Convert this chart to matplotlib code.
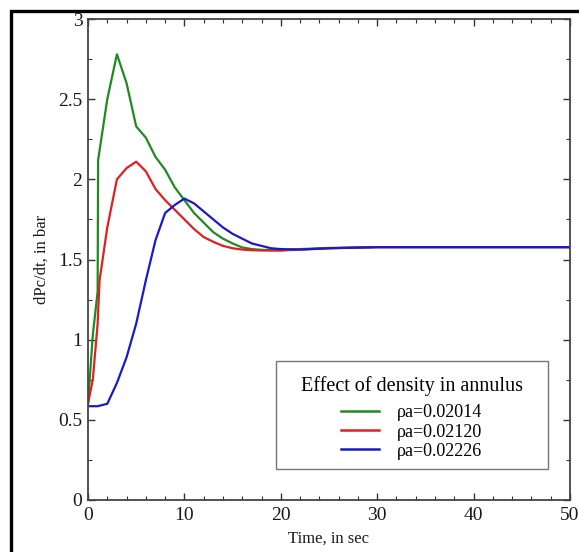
import matplotlib
matplotlib.use("Agg")
import matplotlib.pyplot as plt
from matplotlib.patches import Rectangle
from matplotlib.ticker import MultipleLocator

plt.rcParams['font.family'] = ['Liberation Serif', 'DejaVu Serif']

# Rate of pressure change for three annulus densities
time_a = [0, 0.5, 1.0, 1.05, 2, 3, 4, 5, 6, 7, 8, 9, 10, 11, 12, 13, 14, 15,
          16, 17, 18, 20, 22, 25, 30, 40, 50]
rate_a = [0.6, 1.03, 1.3, 2.12, 2.50, 2.78, 2.60, 2.33, 2.26, 2.14, 2.06, 1.95,
          1.87, 1.79, 1.73, 1.67, 1.63, 1.60, 1.575, 1.565, 1.56, 1.558, 1.565,
          1.572, 1.577, 1.577, 1.577]

time_b = [0, 0.5, 1.0, 1.2, 2, 3, 4, 5, 6, 7, 8, 9, 10, 11, 12, 13, 14, 15,
          16, 17, 18, 20, 22, 25, 30, 40, 50]
rate_b = [0.6, 0.75, 1.1, 1.37, 1.70, 2.0, 2.07, 2.11, 2.05, 1.94, 1.87, 1.81,
          1.75, 1.69, 1.64, 1.61, 1.585, 1.57, 1.562, 1.558, 1.556, 1.556, 1.562,
          1.57, 1.577, 1.577, 1.577]

time_c = [0, 1, 2, 3, 4, 5, 6, 7, 8, 9, 10, 11, 12, 13, 14, 15, 16, 17, 18,
          19, 20, 22, 25, 30, 40, 50]
rate_c = [0.585, 0.585, 0.60, 0.73, 0.89, 1.10, 1.37, 1.62, 1.79, 1.84, 1.88,
          1.85, 1.80, 1.75, 1.70, 1.66, 1.63, 1.60, 1.585, 1.57, 1.565, 1.562,
          1.57, 1.577, 1.577, 1.577]

labels = ['ρa=0.02014', 'ρa=0.02120', 'ρa=0.02226']
colors = ['#1f8a1f', '#e02020', '#1a1ac8']

fig = plt.figure(figsize=(5.79, 5.52), dpi=100)
ax = fig.add_axes([88 / 579, 52 / 552, 482 / 579, 481 / 552])

for t, v, lab, c in zip([time_a, time_b, time_c], [rate_a, rate_b, rate_c],
                        labels, colors):
    ax.plot(t, v, color=c, lw=1.6, label=lab)

ax.set_xlim(0, 50)
ax.set_ylim(0, 3)
ax.xaxis.set_major_locator(MultipleLocator(10))
ax.xaxis.set_minor_locator(MultipleLocator(2))
ax.yaxis.set_major_locator(MultipleLocator(0.5))
ax.yaxis.set_minor_locator(MultipleLocator(0.25))
ax.set_yticks([0, 0.5, 1, 1.5, 2, 2.5, 3])
ax.set_yticklabels(['0', '0.5', '1', '1.5', '2', '2.5', '3'])

ax.tick_params(which='both', direction='in', top=True, right=True,
               colors='#333333', labelcolor='#1a1a1a', labelsize=14)
ax.tick_params(which='major', length=5, width=1.0)
ax.tick_params(which='minor', length=3, width=0.8)
ax.tick_params(axis='x', pad=5)
ax.tick_params(axis='y', pad=4)
for sp in ax.spines.values():
    sp.set_color('#444444')
    sp.set_linewidth(1.3)

ax.set_xlabel('Time, in sec', fontsize=12, color='#1a1a1a', labelpad=5)
ax.set_ylabel('dPc/dt, in bar', fontsize=12, color='#1a1a1a', labelpad=6)

# Legend with a separate outline box
box_x0, box_y0 = (276 - 88) / 482, (500 - 469) / 481
box_w, box_h = (548 - 276) / 482, (469 - 361) / 481
ax.add_patch(Rectangle((box_x0, box_y0), box_w, box_h, transform=ax.transAxes,
                       fill=True, fc='white', ec='#777777', lw=1.0, zorder=4))
leg = ax.legend(loc='center',
                bbox_to_anchor=(box_x0 + box_w / 2, box_y0 + box_h / 2 - 3 / 481),
                frameon=False, fontsize=13, title='Effect of density in annulus',
                title_fontsize=14.5, handlelength=2.1, handletextpad=1.0,
                labelspacing=0.12, borderpad=0.2)
leg._legend_box.sep = 6.0
leg.set_zorder(5)
for line in leg.get_lines():
    line.set_linewidth(1.8)

# Outer frame around the figure
fig.add_artist(Rectangle((11 / 579, -0.1), 1.2, 1.1 - 11 / 552,
                         transform=fig.transFigure, fill=False,
                         ec='black', lw=2.4))

fig.savefig('out.png', dpi=100)
